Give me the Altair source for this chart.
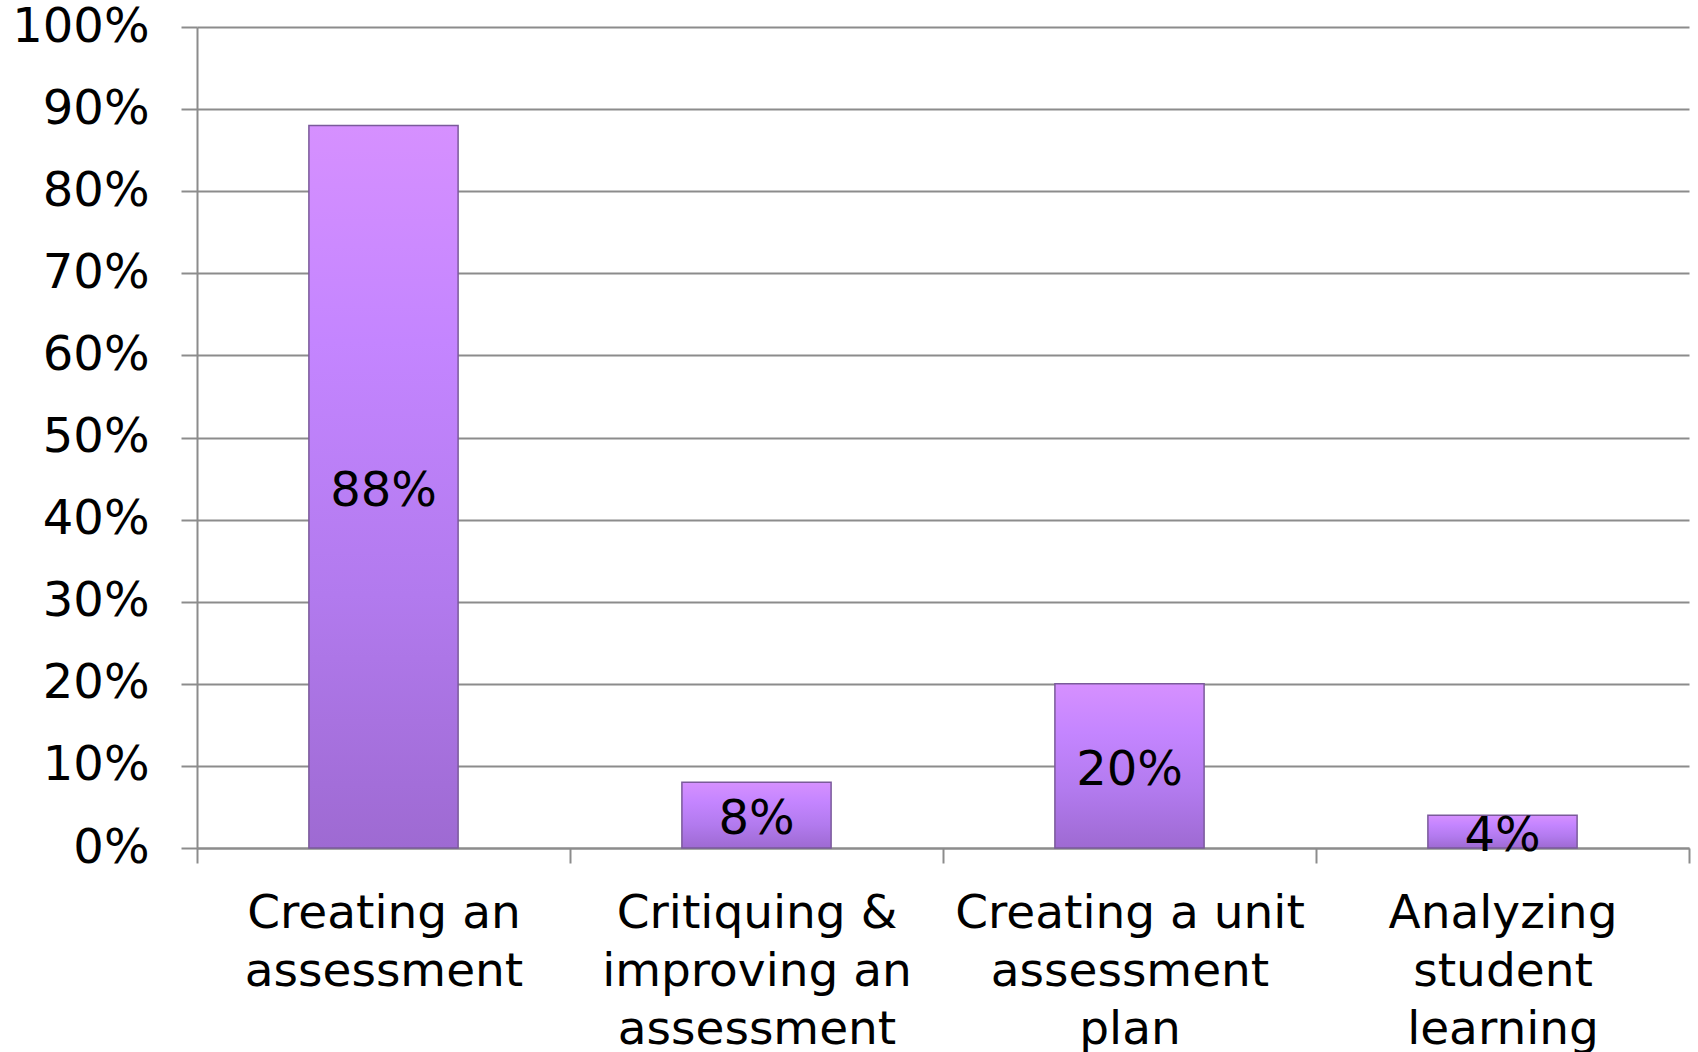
import altair as alt
import pandas as pd

categories = ["Creating an|assessment", "Critiquing &|improving an|assessment",
              "Creating a unit|assessment|plan", "Analyzing|student|learning"]
values = [0.88, 0.08, 0.20, 0.04]
labels = ["88%", "8%", "20%", "4%"]
y_ticks = [0, 0.1, 0.2, 0.3, 0.4, 0.5, 0.6, 0.7, 0.8, 0.9, 1.0]

df = pd.DataFrame({"cat": categories, "value": values, "label": labels})

FONT = "DejaVu Sans"
GRID = "#8c8c8c"

x_scale = alt.Scale(paddingInner=0, paddingOuter=0)
x_enc = alt.X("cat:N", sort=categories, title=None, scale=x_scale,
              axis=alt.Axis(labelAngle=0, labelExpr="split(datum.label, '|')",
                            labelFont=FONT, labelFontSize=47, labelColor="black",
                            labelLineHeight=58, labelPadding=27, labelBaseline="top",
                            tickBand="extent", tickSize=15, tickWidth=2, tickColor=GRID,
                            domainColor=GRID, domainWidth=2, labelLimit=0, grid=False))

y_scale = alt.Scale(domain=[0, 1], nice=False)

bars = alt.Chart(df).mark_bar(
    width=alt.RelativeBandSize(0.4),
    color=alt.Gradient(gradient="linear",
                       stops=[alt.GradientStop(color="#D690FF", offset=0),
                              alt.GradientStop(color="#C485FF", offset=0.3),
                              alt.GradientStop(color="#B27AEE", offset=0.65),
                              alt.GradientStop(color="#9E6AD2", offset=1)],
                       x1=0, x2=0, y1=0, y2=1),
    stroke="#7a5a9a", strokeWidth=1.5
).encode(
    x=x_enc,
    y=alt.Y("value:Q", scale=y_scale, title=None,
            axis=alt.Axis(values=y_ticks, format=".0%", labelFont=FONT, labelFontSize=48,
                          labelColor="black", labelPadding=32, tickSize=16, tickWidth=2,
                          tickColor=GRID, domainColor=GRID, domainWidth=2,
                          gridColor=GRID, gridWidth=2))
)

text = alt.Chart(df).transform_calculate(mid="datum.value / 2").mark_text(
    font=FONT, fontSize=48, color="black", baseline="middle", align="center", dy=5
).encode(
    x=alt.X("cat:N", sort=categories, scale=x_scale),
    y=alt.Y("mid:Q", scale=y_scale),
    text="label:N"
)

chart = (bars + text).properties(
    width=1492, height=821,
    autosize=alt.AutoSizeParams(type="none"),
    padding={"left": 197, "top": 27, "right": 9, "bottom": 204},
    background="white"
).configure_view(stroke=None)

chart.save("out.html", embed_options={"renderer": "svg", "actions": False})
